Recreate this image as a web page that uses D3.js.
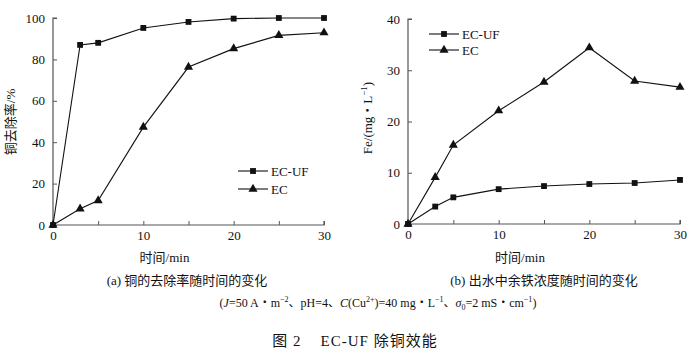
<!DOCTYPE html>
<html><head><meta charset="utf-8">
<script src="https://cdn.jsdelivr.net/npm/d3@7/dist/d3.min.js"></script>
<style>
body{margin:0;background:#fff;}
svg text{font-family:"Liberation Serif","Noto Sans CJK SC",serif;fill:#111;}
</style></head><body>
<svg id="c" width="695" height="354" font-family="Liberation Serif, Noto Sans CJK SC, serif"></svg>
<script>
const times = [0, 3, 5, 10, 15, 20, 25, 30];
const cuRemovalECUF = [0, 87, 88, 95.2, 98.1, 99.7, 100, 100];
const cuRemovalEC = [0, 7.8, 11.8, 47.3, 76.3, 85.2, 91.6, 92.9];
const feECUF = [0, 3.4, 5.2, 6.8, 7.4, 7.8, 8.0, 8.6];
const feEC = [0, 9.1, 15.4, 22.1, 27.7, 34.4, 27.9, 26.7];
const xTicksMajor = [0, 10, 20, 30];
const xTicksAll = [0, 5, 10, 15, 20, 25, 30];
const yTicksA = [0, 20, 40, 60, 80, 100];
const yTicksB = [0, 10, 20, 30, 40];
const seriesNames = ["EC-UF", "EC"];

const svg = d3.select("#c");
const SERIF = "Liberation Serif, Noto Sans CJK SC, serif";

function panel(o){
  const g = svg.append("g");
  const x = d3.scaleLinear().domain([0,30]).range([o.x0,o.x1]);
  const y = d3.scaleLinear().domain(o.ydom).range([o.y0,o.y1]);
  const ya = d3.axisLeft(y).tickValues(o.yticks).tickSize(-4).tickPadding(8).tickFormat(d3.format("d"));
  const yg = g.append("g").attr("transform",`translate(${o.x0},0)`).call(ya);
  const xa = d3.axisBottom(x).tickValues(xTicksAll).tickSize(-4).tickPadding(6)
     .tickFormat(d => xTicksMajor.includes(d) ? d : "");
  const xg = g.append("g").attr("transform",`translate(0,${o.y0})`).call(xa);
  [yg,xg].forEach(a=>{
    a.attr("font-family",SERIF).attr("font-size",13);
    a.select(".domain").attr("stroke","#555").attr("stroke-width",1.2);
    a.selectAll(".tick line").attr("stroke","#555");
    a.selectAll("text").attr("fill","#111");
  });
  yg.selectAll(".domain").attr("d",`M0,${o.y0}V${o.y1}h4`);
  xg.selectAll(".domain").attr("d",`M${o.x0},0H${o.x1}v-4`);
  const line = d3.line().x((d,i)=>x(times[i])).y(d=>y(d));
  const sq = d3.symbol().type(d3.symbolSquare).size(34);
  const tri = d3.symbol().type(d3.symbolTriangle).size(36);
  [[o.s1,sq],[o.s2,tri]].forEach(([s,sym])=>{
    g.append("path").datum(s).attr("d",line).attr("fill","none").attr("stroke","#111").attr("stroke-width",1.1);
    g.selectAll(null).data(s).enter().append("path")
      .attr("d",sym).attr("transform",(d,i)=>`translate(${x(times[i])},${y(d)})`).attr("fill","#111");
  });
  [sq,tri].forEach((sym,i)=>{
    const ly = o.ly + i*o.lstep;
    g.append("line").attr("x1",o.lx).attr("x2",o.lx+30).attr("y1",ly).attr("y2",ly).attr("stroke","#111").attr("stroke-width",1.1);
    g.append("path").attr("d",sym).attr("transform",`translate(${o.lx+15},${ly})`).attr("fill","#111");
    g.append("text").attr("x",o.lx+33).attr("y",ly+4.5).attr("font-size",13).text(seriesNames[i]);
  });
  g.append("text").attr("x",(o.x0+o.x1)/2 - 24).attr("y",262).attr("text-anchor","middle").attr("font-size",13).text("时间/min");
  g.append("text").attr("transform",`translate(${o.ytx},${o.yty}) rotate(-90)`).attr("text-anchor","middle").attr("font-size",13).html(o.ytitle);
  g.append("text").attr("x",o.capx).attr("y",285).attr("text-anchor","middle").attr("font-size",13).text(o.cap);
}

panel({x0:53,x1:324,y0:225,y1:18,ydom:[0,100],yticks:yTicksA,s1:cuRemovalECUF,s2:cuRemovalEC,
  lx:238,ly:171,lstep:18,ytx:15,yty:122,ytitle:"铜去除率/%",capx:187,cap:"(a) 铜的去除率随时间的变化"});
panel({x0:408,x1:680,y0:224,y1:19,ydom:[0,40],yticks:yTicksB,s1:feECUF,s2:feEC,
  lx:429,ly:34,lstep:16,ytx:372,yty:118,ytitle:'Fe/(mg・L<tspan dy="-5" font-size="9">−1</tspan><tspan dy="5">)</tspan>',capx:544,cap:"(b) 出水中余铁浓度随时间的变化"});

svg.append("text").attr("x",378).attr("y",307).attr("text-anchor","middle").attr("font-size",12)
  .html('(<tspan font-style="italic">J</tspan>=50 A・m<tspan dy="-5" font-size="8">−2</tspan><tspan dy="5">、pH=4、</tspan><tspan font-style="italic">C</tspan>(Cu<tspan dy="-5" font-size="8">2+</tspan><tspan dy="5">)=40 mg・L</tspan><tspan dy="-5" font-size="8">−1</tspan><tspan dy="5">、</tspan><tspan font-style="italic">σ</tspan><tspan dy="3" font-size="8">0</tspan><tspan dy="-3">=2 mS・cm</tspan><tspan dy="-5" font-size="8">−1</tspan><tspan dy="5">)</tspan>');
svg.append("text").attr("x",355).attr("y",346).attr("text-anchor","middle").attr("font-size",15)
  .attr("letter-spacing",1).attr("xml:space","preserve").text("图 2    EC-UF 除铜效能");
</script></body></html>
